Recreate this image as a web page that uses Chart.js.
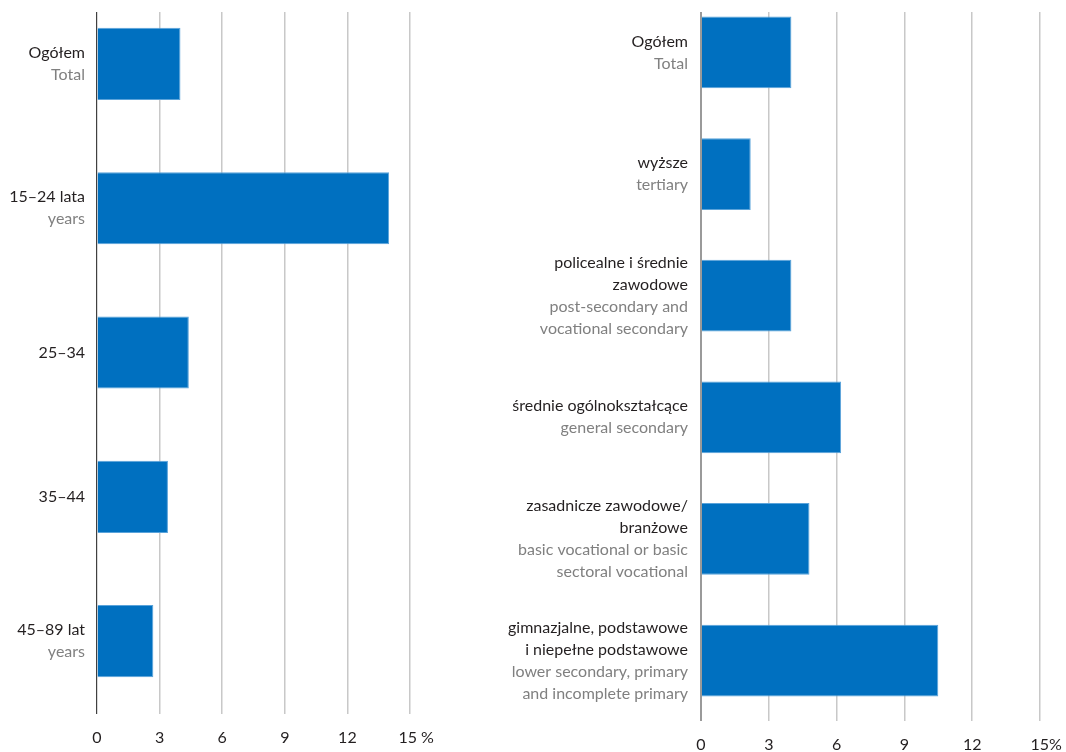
<!DOCTYPE html>
<html>
<head>
<meta charset="utf-8">
<script src="https://cdn.jsdelivr.net/npm/chart.js@4/dist/chart.umd.min.js"></script>
<style>
  html, body { margin: 0; padding: 0; background: #fff; overflow: hidden; width: 1066px; height: 752px; }
  .wrap { position: absolute; top: 0; }
  #left { left: 0; width: 480px; height: 762px; }
  #right { left: 480px; width: 640px; height: 769px; }
</style>
</head>
<body>
<div class="wrap" id="left"><canvas id="ageChart"></canvas></div>
<div class="wrap" id="right"><canvas id="eduChart"></canvas></div>
<script>
// age groups
const ageLabelsPl = ["Ogółem", "15–24 lata", "25–34", "35–44", "45–89 lat"];
const ageLabelsEn = ["Total", "years", "", "", "years"];
const ageValues = [4.0, 14.0, 4.4, 3.4, 2.7];

// education levels
const eduLabelsPl = [
  ["Ogółem"],
  ["wyższe"],
  ["policealne i średnie", "zawodowe"],
  ["średnie ogólnokształcące"],
  ["zasadnicze zawodowe/", "branżowe"],
  ["gimnazjalne, podstawowe", "i niepełne podstawowe"],
];
const eduLabelsEn = [
  ["Total"],
  ["tertiary"],
  ["post-secondary and", "vocational secondary"],
  ["general secondary"],
  ["basic vocational or basic", "sectoral vocational"],
  ["lower secondary, primary", "and incomplete primary"],
];
const eduValues = [4.0, 2.2, 4.0, 6.2, 4.8, 10.5];

const xTicks = [0, 3, 6, 9, 12, 15];

const FONT = "Lato, 'Noto Sans', sans-serif";
const BLUE = "#0070c0";

// draws two-colour category labels left of the plot
const categoryLabels = {
  id: "categoryLabels",
  afterDraw(chart, args, opts) {
    const { ctx, chartArea } = chart;
    const yScale = chart.scales.y;
    ctx.save();
    ctx.font = "16px " + FONT;
    ctx.textAlign = "right";
    ctx.textBaseline = "middle";
    opts.pl.forEach((pl, i) => {
      const plLines = [].concat(pl).filter((s) => s);
      const enLines = [].concat(opts.en[i]).filter((s) => s);
      const lines = plLines.map((t) => [t, "#231f20"]).concat(enLines.map((t) => [t, "#808080"]));
      const lh = 22;
      let y = yScale.getPixelForValue(i) - ((lines.length - 1) * lh) / 2;
      lines.forEach(([t, c]) => {
        ctx.fillStyle = c;
        ctx.fillText(t, chartArea.left - opts.gap, y);
        y += lh;
      });
    });
    ctx.restore();
  },
};

function makeChart(id, plLabels, enLabels, values, cfg) {
  const ctx = document.getElementById(id);
  return new Chart(ctx, {
    type: "bar",
    data: {
      datasets: [
        {
          data: values.map((v, i) => ({ x: v, y: i })),
          backgroundColor: BLUE,
          borderColor: "#5aa3da",
          borderWidth: 1,
          barPercentage: cfg.barPct,
          categoryPercentage: 1,
        },
      ],
    },
    options: {
      indexAxis: "y",
      responsive: true,
      maintainAspectRatio: false,
      animation: false,
      layout: { padding: cfg.padding },
      plugins: {
        legend: { display: false },
        tooltip: { enabled: false },
        categoryLabels: { pl: plLabels, en: enLabels, gap: cfg.gap },
      },
      scales: {
        y: {
          type: "linear",
          reverse: true,
          offset: false,
          min: cfg.yMin,
          max: cfg.yMax,
          display: false,
          grid: { offset: false },
          afterBuildTicks: (scale) => {
            scale.ticks = plLabels.map((_, i) => ({ value: i }));
          },
        },
        x: {
          type: "linear",
          min: 0,
          max: 15,
          afterBuildTicks: (scale) => {
            scale.ticks = xTicks.map((v) => ({ value: v }));
          },
          border: { display: false },
          grid: {
            drawTicks: false,
            color: (c) => (c.tick && c.tick.value === 0 ? cfg.axisColor : "#c8c8c8"),
            lineWidth: (c) => (c.tick && c.tick.value === 0 ? cfg.axisWidth : 1.5),
          },
          ticks: {
            padding: 16,
            color: "#231f20",
            font: { family: FONT, size: 16, lineHeight: 1 },
            callback: (v) => (v === 15 ? cfg.lastLabel : String(v)),
          },
        },
      },
    },
    plugins: [categoryLabels],
  });
}

makeChart("ageChart", ageLabelsPl, ageLabelsEn, ageValues, {
  padding: { left: 97, right: 70, top: 12, bottom: 0 },
  yMin: -0.36,
  yMax: 4.505,
  barPct: 0.5,
  gap: 12,
  axisColor: "#404040",
  axisWidth: 1.2,
  lastLabel: "\u00a0\u00a0\u00a015 %",
});

makeChart("eduChart", eduLabelsPl, eduLabelsEn, eduValues, {
  padding: { left: 221, right: 80, top: 12, bottom: 0 },
  yMin: -0.3325,
  yMax: 5.497,
  barPct: 0.59,
  gap: 13,
  axisColor: "#9a9a9a",
  axisWidth: 2,
  lastLabel: "\u00a0\u00a0\u00a015%",
});
</script>
</body>
</html>
